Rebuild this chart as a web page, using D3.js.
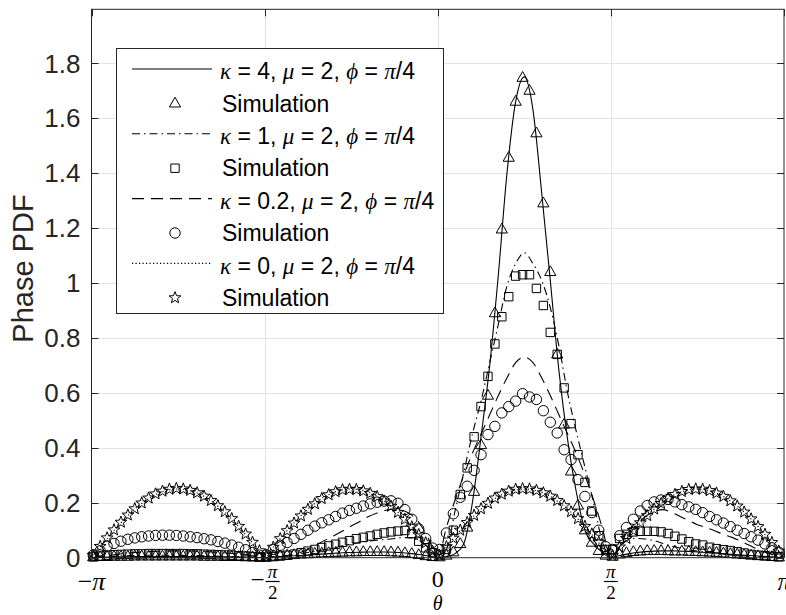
<!DOCTYPE html>
<html>
<head>
<meta charset="utf-8">
<script src="https://cdn.jsdelivr.net/npm/d3@7"></script>
<style>
  body { margin: 0; background: #fff; }
  svg { display: block; }
</style>
</head>
<body>
<svg id="chart" width="786" height="615"></svg>
<script>
// Phase PDF of the kappa-mu model, mu = 2, phi = pi/4.
// Angles are stored in units of pi.

// Analytical curves, sampled every pi/40 from -pi to pi
const thetaTheory = d3.range(0, 81).map(j => -1 + j * 0.025);

const pdfKappa4 = [
  0, .001, .002, .003, .003, .004, .004, .004, .004, .004, .004, .004, .004, .004, .004, .003, .003, .002, .002, .001,
  0, .002, .004, .006, .008, .010, .012, .014, .016, .018, .019, .020, .021, .021, .021, .020, .018, .015, .011, .006,
  0, .004, .015, .05, .2, .44, .7, 1.03, 1.40, 1.66, 1.75, 1.63, 1.33, 1.01, .68, .43, .24, .1, .05, .02,
  0, .008, .014, .019, .022, .024, .025, .025, .024, .023, .021, .019, .017, .015, .012, .01, .008, .006, .004, .002, 0
];
const pdfKappa1 = [
  0, .002, .004, .006, .007, .008, .009, .009, .009, .009, .009, .008, .008, .007, .006, .005, .004, .003, .002, .001,
  0, .003, .006, .01, .014, .019, .024, .03, .036, .043, .05, .055, .06, .064, .066, .07, .073, .072, .06, .035,
  0, .03, .17, .31, .45, .57, .71, .85, .99, 1.07, 1.11, 1.07, 1.01, .91, .77, .60, .46, .33, .2, .06,
  0, .04, .065, .07, .068, .062, .052, .042, .035, .029, .024, .02, .016, .013, .01, .008, .006, .004, .003, .001, 0
];
const pdfKappa02 = [
  0, .004, .008, .012, .016, .019, .021, .023, .024, .025, .025, .025, .024, .023, .021, .019, .016, .013, .009, .005,
  0, .002, .005, .01, .018, .03, .047, .064, .08, .097, .115, .132, .15, .163, .173, .177, .172, .155, .12, .065,
  0, .11, .21, .3, .38, .45, .52, .59, .655, .71, .73, .71, .655, .59, .52, .45, .38, .3, .21, .11,
  0, .04, .08, .12, .15, .168, .175, .165, .15, .135, .12, .11, .098, .085, .074, .06, .045, .03, .018, .008, 0
];
const pdfKappa0 = [
  0, .039, .077, .113, .147, .177, .202, .223, .238, .247, .25, .247, .238, .223, .202, .177, .147, .113, .077, .039,
  0, .039, .077, .113, .147, .177, .202, .223, .238, .247, .25, .247, .238, .223, .202, .177, .147, .113, .077, .039,
  0, .039, .077, .113, .147, .177, .202, .223, .238, .247, .25, .247, .238, .223, .202, .177, .147, .113, .077, .039,
  0, .039, .077, .113, .147, .177, .202, .223, .238, .247, .25, .247, .238, .223, .202, .177, .147, .113, .077, .039, 0
];

// Simulated histograms, 100 bins across [-pi, pi)
const thetaSim = d3.range(0, 100).map(k => -0.995 + k * 0.02);

const simKappa4 = [
  .002, .003, .003, .004, .004, .004, .005, .005, .005, .005, .005, .005, .005, .005, .005, .005, .004, .004, .004, .003, .003, .003, .002, .002, .001,
  .002, .004, .006, .008, .01, .012, .013, .015, .016, .017, .018, .019, .02, .02, .021, .021, .021, .021, .02, .019, .017, .014, .01, .006, .003,
  .002, .008, .02, .05, .11, .24, .41, .59, .89, 1.195, 1.456, 1.66, 1.747, 1.70, 1.545, 1.29, 1.04, .74, .485, .314, .19, .1, .055, .025, .008,
  .004, .012, .017, .021, .023, .025, .025, .025, .024, .023, .023, .022, .021, .02, .019, .018, .016, .014, .012, .01, .008, .006, .005, .003, .002
];
const simKappa1 = [
  .003, .006, .009, .011, .012, .013, .014, .014, .015, .015, .015, .015, .015, .015, .014, .014, .013, .012, .011, .010, .009, .007, .006, .004, .002,
  .002, .004, .006, .009, .013, .018, .024, .03, .037, .043, .049, .056, .062, .069, .074, .079, .085, .09, .094, .097, .099, .088, .06, .036, .018,
  .01, .03, .1, .23, .327, .44, .55, .66, .778, .877, .95, 1.025, 1.03, 1.03, .98, .918, .82, .74, .618, .488, .375, .274, .17, .08, .03,
  .03, .07, .085, .094, .096, .096, .096, .094, .088, .078, .068, .058, .05, .046, .038, .033, .029, .026, .022, .017, .012, .009, .007, .005, .003
];
const simKappa02 = [
  .01, .025, .042, .052, .06, .067, .072, .076, .079, .081, .082, .082, .081, .079, .076, .073, .069, .065, .059, .053, .046, .038, .029, .019, .009,
  .01, .03, .045, .055, .07, .085, .1, .115, .127, .138, .15, .162, .172, .18, .188, .196, .202, .206, .207, .198, .175, .14, .105, .07, .035,
  .03, .09, .16, .22, .26, .318, .375, .448, .478, .527, .55, .57, .597, .585, .576, .535, .493, .454, .393, .357, .284, .223, .164, .1, .04,
  .03, .08, .11, .14, .17, .19, .203, .21, .212, .203, .193, .185, .176, .164, .15, .138, .126, .113, .1, .088, .076, .064, .05, .036, .02
];
const simKappa0 = [
  .009, .041, .072, .101, .129, .155, .178, .199, .217, .232, .242, .249, .252, .250, .245, .236, .224, .208, .189, .167, .142, .114, .086, .056, .025,
  .008, .038, .069, .098, .126, .152, .176, .196, .215, .229, .240, .247, .249, .248, .243, .234, .222, .206, .187, .165, .140, .112, .084, .054, .023,
  .009, .040, .071, .100, .128, .154, .178, .198, .217, .231, .242, .249, .251, .250, .245, .236, .224, .208, .189, .167, .142, .114, .086, .056, .025,
  .008, .039, .070, .099, .127, .153, .177, .197, .216, .230, .241, .248, .250, .249, .244, .235, .223, .207, .188, .166, .141, .113, .085, .055, .024
];

// Axis ticks
const yTicks = [0, 0.2, 0.4, 0.6, 0.8, 1, 1.2, 1.4, 1.6, 1.8];
const yTickLabels = ["0", "0.2", "0.4", "0.6", "0.8", "1", "1.2", "1.4", "1.6", "1.8"];
const xTicks = [-1, -0.5, 0, 0.5, 1];          // multiples of pi
const xTickLabels = ["−π", "−π/2", "0", "π/2", "π"];

const kappaLabels = ["4", "1", "0.2", "0"];

// ---------------------------------------------------------------------------
const svg = d3.select("#chart");
const plot = { left: 91.5, right: 784, top: 9.3, bottom: 557.7 };

const x = d3.scaleLinear().domain([-1, 1]).range([plot.left, plot.right]);
const y = d3.scaleLinear().domain([0, 1.996]).range([plot.bottom, plot.top]);

const ink = "#262626";
const sansFont = "'Liberation Sans', Arial, Helvetica, sans-serif";
const serifFont = "'Liberation Serif', 'DejaVu Serif', serif";

// grid
const grid = svg.append("g").attr("stroke", "#e3e3e3").attr("stroke-width", 1);
grid.selectAll("line.gy").data(yTicks.slice(1)).join("line")
  .attr("x1", plot.left).attr("x2", plot.right)
  .attr("y1", d => Math.round(y(d)) + 0.5).attr("y2", d => Math.round(y(d)) + 0.5);
grid.selectAll("line.gx").data(xTicks.slice(1, -1)).join("line")
  .attr("y1", plot.top).attr("y2", plot.bottom)
  .attr("x1", d => Math.round(x(d)) + 0.5).attr("x2", d => Math.round(x(d)) + 0.5);

// series
const series = [
  { theory: pdfKappa4, sim: simKappa4, dash: null, marker: "triangle" },
  { theory: pdfKappa1, sim: simKappa1, dash: "8,4,1.5,4", marker: "square" },
  { theory: pdfKappa02, sim: simKappa02, dash: "12,7", marker: "circle" },
  { theory: pdfKappa0, sim: simKappa0, dash: "1.2,2.3", marker: "star" }
];

const line = d3.line()
  .x(d => x(d[0])).y(d => y(d[1]))
  .curve(d3.curveMonotoneX);

function markerPath(type) {
  switch (type) {
    case "triangle": return "M0,-6.2L5.6,3.6L-5.6,3.6Z";
    case "square": return "M-4.2,-4.2H4.2V4.2H-4.2Z";
    case "circle": return "M5.2,0A5.2,5.2 0 1,1 -5.2,0A5.2,5.2 0 1,1 5.2,0Z";
    case "star": {
      const pts = [];
      for (let i = 0; i < 10; i++) {
        const r = i % 2 === 0 ? 6.2 : 2.6;
        const a = -Math.PI / 2 + i * Math.PI / 5;
        pts.push([r * Math.cos(a), r * Math.sin(a)]);
      }
      return "M" + pts.map(p => p[0].toFixed(2) + "," + p[1].toFixed(2)).join("L") + "Z";
    }
  }
}

const dataLayer = svg.append("g");
series.forEach(s => {
  const pts = thetaTheory.map((t, i) => [t, s.theory[i]]);
  dataLayer.append("path")
    .attr("d", line(pts))
    .attr("fill", "none")
    .attr("stroke", "#000")
    .attr("stroke-width", 1.1)
    .attr("stroke-dasharray", s.dash);
  const mp = markerPath(s.marker);
  dataLayer.append("g").selectAll("path").data(thetaSim.map((t, i) => [t, s.sim[i]])).join("path")
    .attr("transform", d => `translate(${x(d[0])},${y(d[1])})`)
    .attr("d", mp)
    .attr("fill", "none")
    .attr("stroke", "#000")
    .attr("stroke-width", 1);
});

// axes box
const box = svg.append("g").attr("fill", "none").attr("stroke", ink).attr("stroke-width", 1);
box.append("rect")
  .attr("x", plot.left).attr("y", plot.top)
  .attr("width", plot.right - plot.left).attr("height", plot.bottom - plot.top);

// tick marks (inside, on all four sides)
const tl = 7;
const tk = svg.append("g").attr("stroke", ink).attr("stroke-width", 1);
yTicks.forEach(v => {
  const yy = Math.round(y(v)) + 0.5;
  tk.append("line").attr("x1", plot.left).attr("x2", plot.left + tl).attr("y1", yy).attr("y2", yy);
  tk.append("line").attr("x1", plot.right - tl).attr("x2", plot.right).attr("y1", yy).attr("y2", yy);
});
xTicks.forEach(v => {
  const xx = Math.round(x(v)) + 0.5;
  tk.append("line").attr("y1", plot.bottom).attr("y2", plot.bottom - tl).attr("x1", xx).attr("x2", xx);
  tk.append("line").attr("y1", plot.top).attr("y2", plot.top + tl).attr("x1", xx).attr("x2", xx);
});

// y tick labels
svg.append("g").selectAll("text").data(yTicks).join("text")
  .attr("x", plot.left - 11)
  .attr("y", d => y(d))
  .attr("dy", "0.36em")
  .attr("text-anchor", "end")
  .attr("font-family", sansFont)
  .attr("font-size", 26)
  .attr("fill", ink)
  .text((d, i) => yTickLabels[i]);

// x tick labels (math style)
const xl = svg.append("g").attr("font-family", serifFont).attr("fill", "#000");
xTicks.forEach((v, i) => {
  const cx = x(v);
  const label = xTickLabels[i];
  if (label.includes("/")) {
    const neg = label.startsWith("−");
    const fx = neg ? cx + 8 : cx;
    if (neg) {
      xl.append("text").attr("x", cx - 7).attr("y", 588).attr("text-anchor", "middle")
        .attr("font-size", 25).text("−");
    }
    xl.append("text").attr("x", fx).attr("y", 578).attr("text-anchor", "middle")
      .attr("font-size", 19).attr("font-style", "italic").text("π");
    xl.append("line").attr("x1", fx - 7).attr("x2", fx + 7).attr("y1", 581.5).attr("y2", 581.5)
      .attr("stroke", "#000").attr("stroke-width", 1.2);
    xl.append("text").attr("x", fx).attr("y", 599).attr("text-anchor", "middle")
      .attr("font-size", 19).text("2");
  } else if (label === "0") {
    xl.append("text").attr("x", cx).attr("y", 587).attr("text-anchor", "middle")
      .attr("font-size", 24).text("0");
  } else {
    const t = xl.append("text").attr("x", cx).attr("y", 590).attr("text-anchor", "middle").attr("font-size", 26);
    if (label.startsWith("−")) t.append("tspan").text("−");
    t.append("tspan").attr("font-style", "italic").text("π");
  }
});

// axis titles
svg.append("text")
  .attr("x", x(0)).attr("y", 610)
  .attr("text-anchor", "middle")
  .attr("font-family", serifFont).attr("font-style", "italic").attr("font-size", 20)
  .text("θ");

svg.append("text")
  .attr("transform", `translate(33,${(plot.top + plot.bottom) / 2 - 15}) rotate(-90)`)
  .attr("text-anchor", "middle")
  .attr("font-family", sansFont).attr("font-size", 29).attr("fill", ink)
  .text("Phase PDF");

// legend
const lg = svg.append("g");
const lgBox = { x: 116, y: 48, w: 327, h: 265 };
lg.append("rect")
  .attr("x", lgBox.x + 0.5).attr("y", lgBox.y + 0.5)
  .attr("width", lgBox.w).attr("height", lgBox.h)
  .attr("fill", "#fff").attr("stroke", ink).attr("stroke-width", 1);

const rowH = 32.4;
const row0 = 71;
series.forEach((s, i) => {
  const yl = row0 + rowH * (2 * i);
  const ym = row0 + rowH * (2 * i + 1);
  lg.append("line")
    .attr("x1", 132).attr("x2", 212).attr("y1", yl - 2).attr("y2", yl - 2)
    .attr("stroke", "#000").attr("stroke-width", 1.1)
    .attr("stroke-dasharray", s.dash);
  const t = lg.append("text").attr("x", 220).attr("y", yl).attr("dy", "0.36em")
    .attr("font-family", sansFont).attr("font-size", 23).attr("fill", "#000");
  const greek = txt => t.append("tspan").attr("font-family", serifFont).attr("font-style", "italic").text(txt);
  const plain = txt => t.append("tspan").text(txt);
  greek("κ"); plain(" = " + kappaLabels[i] + ", ");
  greek("μ"); plain(" = 2, ");
  greek("ϕ"); plain(" = ");
  greek("π"); plain("/4");

  lg.append("path")
    .attr("transform", `translate(175,${ym})`)
    .attr("d", markerPath(s.marker))
    .attr("fill", "none").attr("stroke", "#000").attr("stroke-width", 1);
  lg.append("text").attr("x", 222).attr("y", ym).attr("dy", "0.36em")
    .attr("font-family", sansFont).attr("font-size", 23).attr("fill", "#000")
    .text("Simulation");
});
</script>
</body>
</html>
